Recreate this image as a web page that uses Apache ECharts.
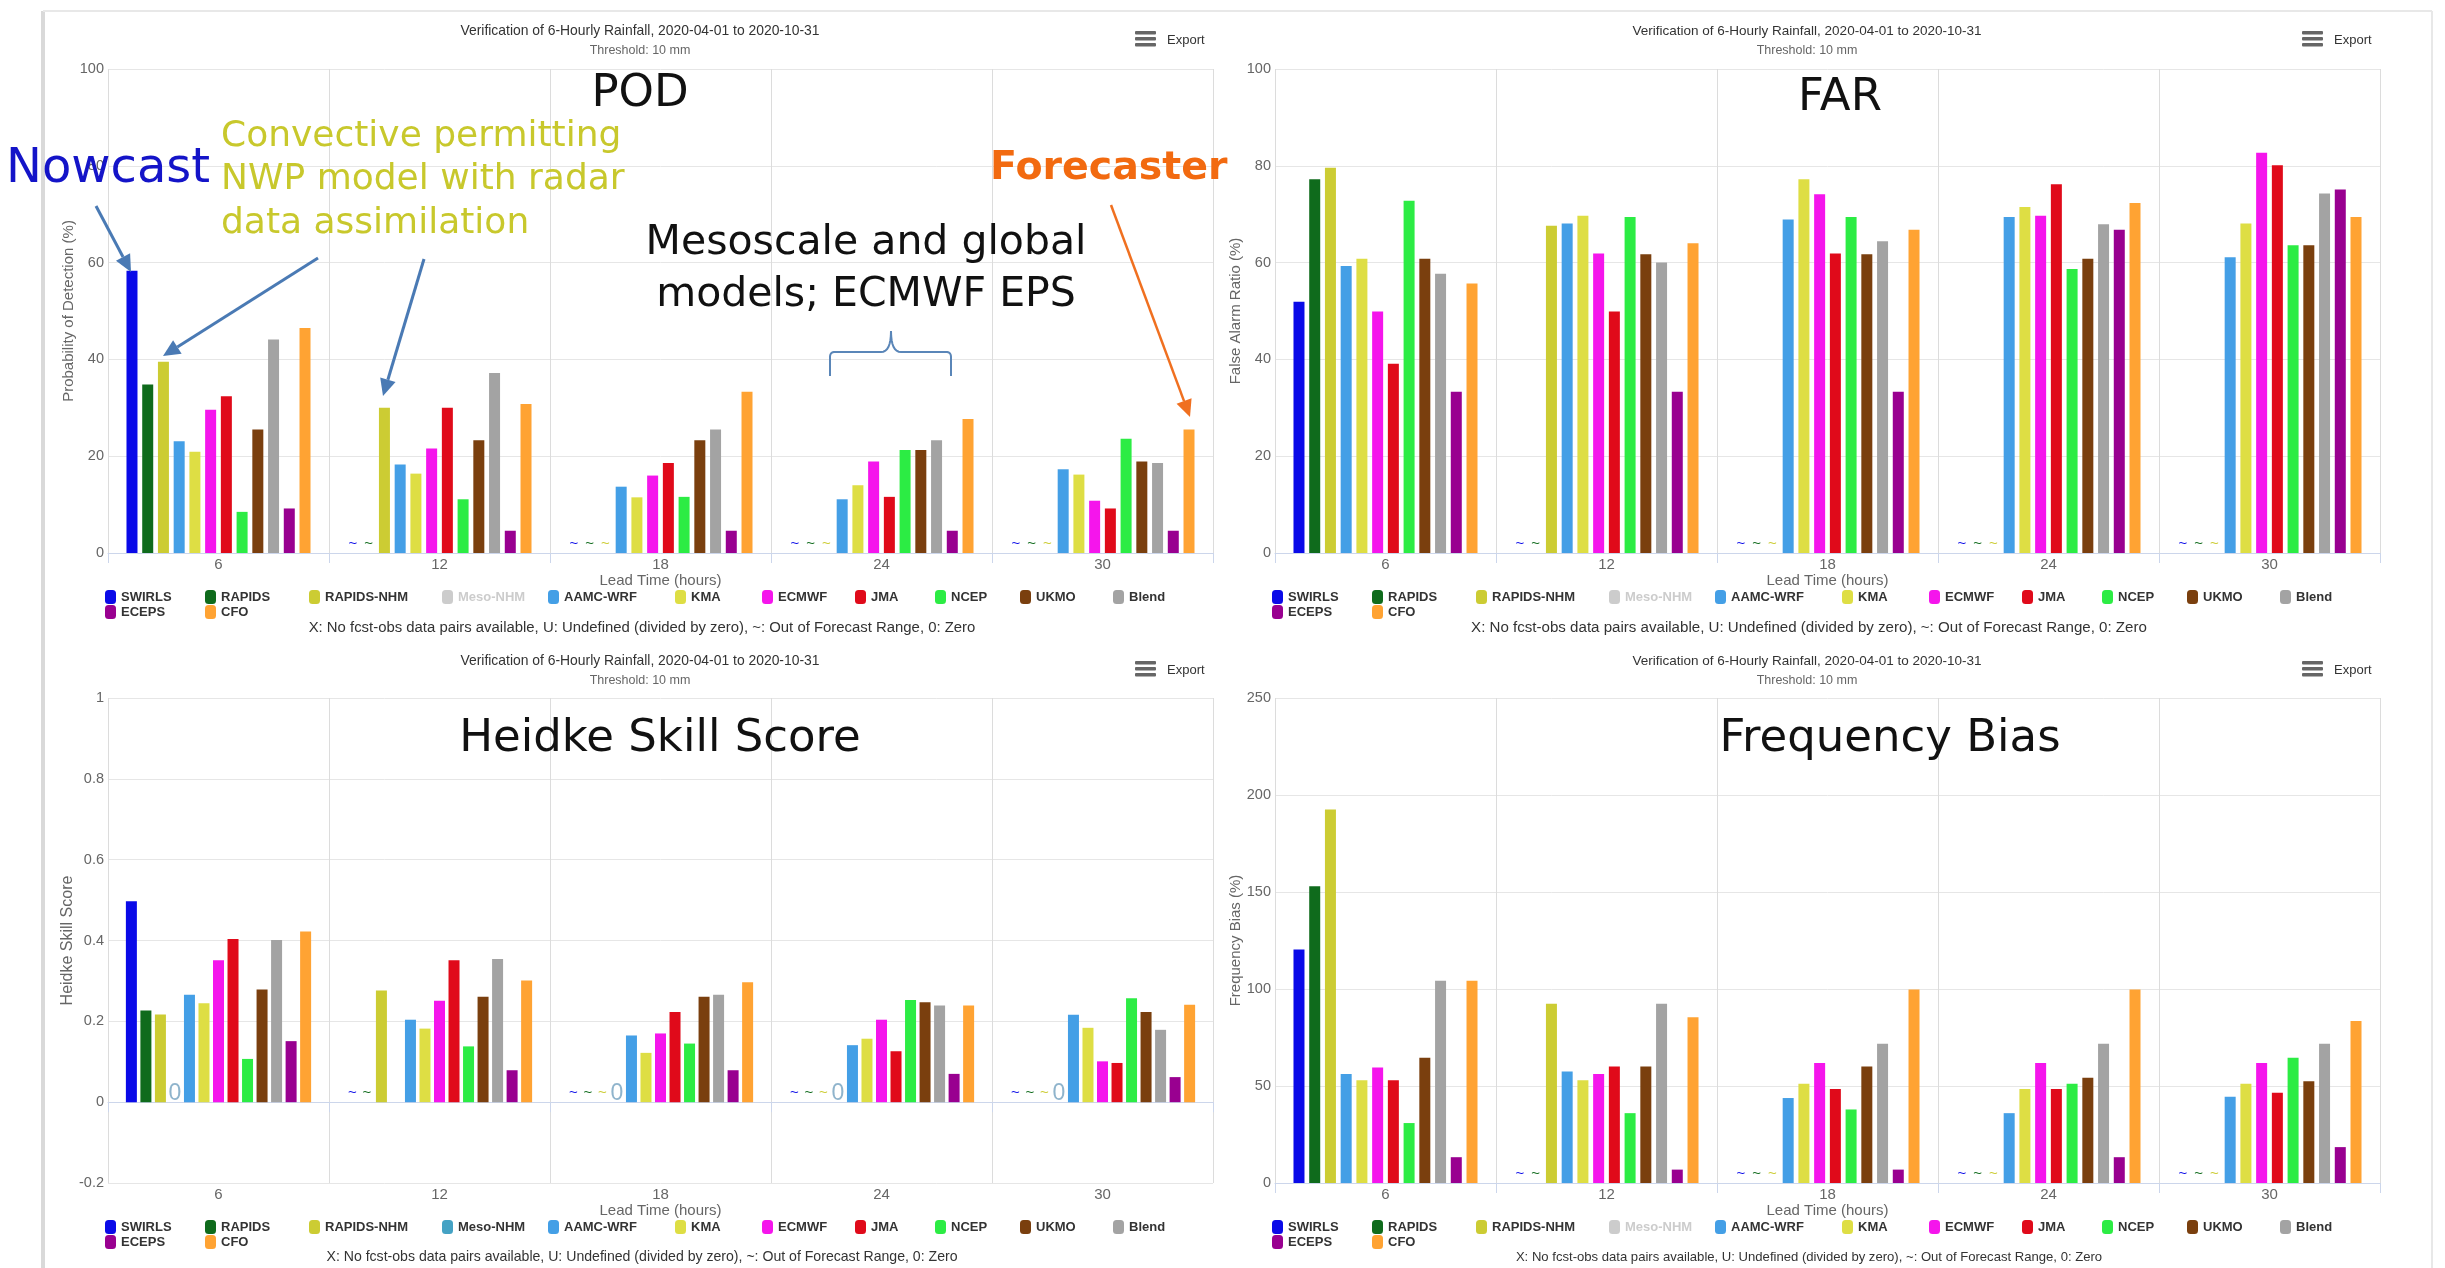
<!DOCTYPE html>
<html>
<head>
<meta charset="utf-8">
<title>Verification of 6-Hourly Rainfall</title>
<script src="https://cdn.jsdelivr.net/npm/echarts@6/dist/echarts.min.js"></script>
<style>
  html, body { margin: 0; padding: 0; background: #ffffff; }
  #chart { width: 2445px; height: 1268px; }
</style>
</head>
<body>
<div id="chart"></div>
<script>
// ---- categories and models ----
const leadTimes = ['6', '12', '18', '24', '30'];
const models = ['SWIRLS', 'RAPIDS', 'RAPIDS-NHM', 'Meso-NHM', 'AAMC-WRF', 'KMA', 'ECMWF',
                'JMA', 'NCEP', 'UKMO', 'Blend', 'ECEPS', 'CFO'];
const modelColors = ['#0a0ae8', '#0f6b1c', '#cccc33', '#44a2c4', '#449fe6', '#dede44', '#f515ec',
                     '#e00a1a', '#2cec44', '#7a3f0e', '#a3a3a3', '#990090', '#ffa333'];

// '~' = out of forecast range, 0 = zero, null = no value.  Rows follow `models`.
const podValues = [
  [58.3, '~', '~', '~', '~'],
  [34.8, '~', '~', '~', '~'],
  [39.5, 30.0, '~', '~', '~'],
  null,
  [23.1, 18.3, 13.7, 11.1, 17.3],
  [20.9, 16.4, 11.5, 14.0, 16.2],
  [29.6, 21.6, 16.0, 18.9, 10.8],
  [32.4, 30.0, 18.6, 11.6, 9.2],
  [8.5, 11.1, 11.6, 21.3, 23.6],
  [25.5, 23.3, 23.3, 21.3, 18.9],
  [44.1, 37.2, 25.5, 23.3, 18.6],
  [9.2, 4.6, 4.6, 4.6, 4.6],
  [46.5, 30.8, 33.3, 27.7, 25.5]
];
const podHidden = ['Meso-NHM'];

const farValues = [
  [51.9, '~', '~', '~', '~'],
  [77.2, '~', '~', '~', '~'],
  [79.6, 67.6, '~', '~', '~'],
  null,
  [59.3, 68.1, 68.9, 69.4, 61.1],
  [60.8, 69.7, 77.2, 71.5, 68.1],
  [49.9, 61.9, 74.1, 69.7, 82.7],
  [39.1, 49.9, 61.9, 76.2, 80.1],
  [72.8, 69.4, 69.4, 58.7, 63.6],
  [60.8, 61.7, 61.7, 60.8, 63.6],
  [57.7, 60.0, 64.4, 67.9, 74.3],
  [33.3, 33.3, 33.3, 66.8, 75.1],
  [55.7, 64.0, 66.8, 72.3, 69.4]
];
const farHidden = ['Meso-NHM'];

const hssValues = [
  [0.497, '~', '~', '~', '~'],
  [0.227, '~', '~', '~', '~'],
  [0.217, 0.276, '~', '~', '~'],
  [0, null, 0, 0, 0],
  [0.266, 0.204, 0.165, 0.141, 0.216],
  [0.245, 0.182, 0.122, 0.157, 0.184],
  [0.351, 0.251, 0.170, 0.204, 0.101],
  [0.404, 0.351, 0.223, 0.126, 0.097],
  [0.107, 0.138, 0.145, 0.253, 0.257],
  [0.279, 0.261, 0.261, 0.247, 0.223],
  [0.401, 0.354, 0.266, 0.239, 0.179],
  [0.151, 0.079, 0.079, 0.070, 0.062],
  [0.422, 0.301, 0.297, 0.239, 0.241]
];
const hssHidden = [];

const fbValues = [
  [120.4, '~', '~', '~', '~'],
  [153.0, '~', '~', '~', '~'],
  [192.5, 92.4, '~', '~', '~'],
  null,
  [56.2, 57.5, 43.8, 36.0, 44.4],
  [53.0, 53.0, 51.1, 48.4, 51.1],
  [59.5, 56.2, 61.9, 61.9, 61.9],
  [53.0, 60.0, 48.4, 48.4, 46.5],
  [30.9, 36.0, 37.9, 51.1, 64.6],
  [64.6, 60.0, 60.0, 54.3, 52.4],
  [104.2, 92.4, 71.8, 71.8, 71.8],
  [13.3, 6.9, 6.9, 13.3, 18.5],
  [104.2, 85.4, 99.8, 99.8, 83.5]
];
const fbHidden = ['Meso-NHM'];

// ---- texts ----
const chartTitle = 'Verification of 6-Hourly Rainfall, 2020-04-01 to 2020-10-31';
const chartSubtitle = 'Threshold: 10 mm';
const xAxisTitle = 'Lead Time (hours)';
const footnote = 'X: No fcst-obs data pairs available, U: Undefined (divided by zero), ~: Out of Forecast Range, 0: Zero';

// ---- layout of the four panels ----
const panels = [
  { values: podValues, hidden: podHidden, yName: 'Probability of Detection (%)', min: 0, max: 100, interval: 20,
    grid: { left: 108, top: 69, width: 1105, height: 484 }, headCx: 640, headY: 31, exportX: 1135, legendY: 590, footY: 628,
    titleSize: 13.9, footSize: 14.9, yNameSize: 15,
    label: 'POD', labelX: 640, labelY: 94 },
  { values: farValues, hidden: farHidden, yName: 'False Alarm Ratio (%)', min: 0, max: 100, interval: 20,
    grid: { left: 1275, top: 69, width: 1105, height: 484 }, headCx: 1807, headY: 31, exportX: 2302, legendY: 590, footY: 628,
    titleSize: 13.5, footSize: 15.1, yNameSize: 15,
    label: 'FAR', labelX: 1840, labelY: 98 },
  { values: hssValues, hidden: hssHidden, yName: 'Heidke Skill Score', min: -0.2, max: 1, interval: 0.2,
    grid: { left: 108, top: 698, width: 1105, height: 485 }, headCx: 640, headY: 661, exportX: 1135, legendY: 1220, footY: 1257,
    titleSize: 13.9, footSize: 14.1, yNameSize: 16,
    label: 'Heidke Skill Score', labelX: 660, labelY: 739 },
  { values: fbValues, hidden: fbHidden, yName: 'Frequency Bias (%)', min: 0, max: 250, interval: 50,
    grid: { left: 1275, top: 698, width: 1105, height: 485 }, headCx: 1807, headY: 661, exportX: 2302, legendY: 1220, footY: 1257,
    titleSize: 13.5, footSize: 13.1, yNameSize: 15,
    label: 'Frequency Bias', labelX: 1890, labelY: 739 }
];

const uiFont = "'Liberation Sans', Arial, sans-serif";
const noteFont = "'DejaVu Sans', 'Noto Sans', sans-serif";
const axisColor = '#ccd6eb';
const gridColor = '#e6e6e6';

// legend column offsets (symbol left edges) relative to the legend start
const legendCols = [0, 100, 204, 337, 443, 570, 657, 750, 830, 915, 1008];
const legendIconW = 11, legendGap = 20;
const legendTextW = legendCols.map((c, i) => (i < legendCols.length - 1 ? legendCols[i + 1] - c : 56) - legendIconW - 5 - legendGap);

function barItem(v, color) {
  if (v === '~') {
    return { value: 0, label: { show: true, formatter: '~', position: 'top', distance: 2, fontSize: 15, color: color } };
  }
  if (v === 0) {
    return { value: 0, label: { show: true, formatter: '0', position: 'top', distance: -3, fontSize: 23, color: '#8fb4cc' } };
  }
  if (v === null || v === undefined) return '-';
  return v;
}

const grids = [], xAxes = [], yAxes = [], series = [], legends = [], graphics = [];

panels.forEach((p, pi) => {
  grids.push(Object.assign({ containLabel: false }, p.grid));
  xAxes.push({
    type: 'category', gridIndex: pi, data: leadTimes, boundaryGap: true,
    axisLine: { show: true, lineStyle: { color: axisColor, width: 1 } },
    axisTick: { show: true, length: 10, interval: 0, lineStyle: { color: axisColor } },
    splitLine: { show: true, interval: 0, lineStyle: { color: '#dcdcdc', width: 1 } },
    axisLabel: { color: '#666', fontSize: 15, margin: 4, fontFamily: uiFont },
    name: xAxisTitle, nameLocation: 'middle', nameGap: 15,
    nameTextStyle: { color: '#666', fontSize: 15, fontFamily: uiFont }
  });
  yAxes.push({
    type: 'value', gridIndex: pi, min: p.min, max: p.max, interval: p.interval,
    axisLine: { show: false }, axisTick: { show: false },
    splitLine: { show: true, lineStyle: { color: gridColor, width: 1 } },
    axisLabel: { color: '#666', fontSize: 14.5, margin: 4, fontFamily: uiFont,
                 formatter: v => String(Math.round(v * 10) / 10) },
    name: p.yName, nameLocation: 'middle', nameRotate: 90, nameGap: 30,
    nameTextStyle: { color: '#666', fontSize: p.yNameSize, fontFamily: uiFont }
  });

  const visible = models.filter(m => p.hidden.indexOf(m) < 0);
  const gap = visible.length > 12 ? '32%' : '43%';
  models.forEach((m, mi) => {
    if (p.hidden.indexOf(m) >= 0) return;
    const row = p.values[mi] || [];
    series.push({
      type: 'bar', name: m, xAxisIndex: pi, yAxisIndex: pi,
      barWidth: 11, barGap: gap,
      itemStyle: { color: modelColors[mi] },
      label: { show: false, fontFamily: uiFont },
      data: leadTimes.map((t, ti) => barItem(row[ti], modelColors[mi]))
    });
  });

  // legend: first row with eleven models, second row with the rest
  const legendItem = (m, w) => {
    const item = { name: m, textStyle: { width: w } };
    if (p.hidden.indexOf(m) >= 0) {
      item.itemStyle = { color: '#cccccc' };
      item.textStyle.color = '#cccccc';
    }
    return item;
  };
  const legendBase = {
    orient: 'horizontal', left: p.grid.left - 3, padding: 0, itemGap: legendGap,
    itemWidth: legendIconW, itemHeight: 14, selectedMode: false,
    icon: 'path://M3.5,0H7.5A3.5,3.5 0 0 1 11,3.5V10.5A3.5,3.5 0 0 1 7.5,14H3.5A3.5,3.5 0 0 1 0,10.5V3.5A3.5,3.5 0 0 1 3.5,0Z',
    textStyle: { color: '#333', fontSize: 13, fontWeight: 'bold', fontFamily: uiFont, lineHeight: 14 }
  };
  legends.push(Object.assign({}, legendBase, {
    top: p.legendY, width: 1200,
    data: models.slice(0, 11).map((m, i) => legendItem(m, legendTextW[i]))
  }));
  legends.push(Object.assign({}, legendBase, {
    top: p.legendY + 15, width: 400,
    data: models.slice(11).map((m, i) => legendItem(m, legendTextW[i]))
  }));

  // header, export button and footnote
  graphics.push({ type: 'text', x: p.headCx, y: p.headY, silent: true,
    style: { text: chartTitle, fill: '#333', fontSize: p.titleSize, fontFamily: uiFont, textAlign: 'center', textVerticalAlign: 'middle' } });
  graphics.push({ type: 'text', x: p.headCx, y: p.headY + 20, silent: true,
    style: { text: chartSubtitle, fill: '#666', fontSize: 12.5, fontFamily: uiFont, textAlign: 'center', textVerticalAlign: 'middle' } });
  [0, 6, 12].forEach(dy => graphics.push({ type: 'rect', silent: true,
    shape: { x: p.exportX, y: p.headY + dy, width: 21, height: 3.5, r: 1 }, style: { fill: '#666' } }));
  graphics.push({ type: 'text', x: p.exportX + 32, y: p.headY + 9, silent: true,
    style: { text: 'Export', fill: '#333', fontSize: 13, fontFamily: uiFont, textAlign: 'left', textVerticalAlign: 'middle' } });
  graphics.push({ type: 'text', x: p.headCx + 2, y: p.footY, silent: true,
    style: { text: footnote, fill: '#333', fontSize: p.footSize, fontFamily: uiFont, textAlign: 'center', textVerticalAlign: 'middle' } });
  // large panel caption
  graphics.push({ type: 'text', x: p.labelX, y: p.labelY, silent: true, z: 100,
    style: { text: p.label, fill: '#111', fontSize: 45, fontFamily: noteFont, textAlign: 'center', textVerticalAlign: 'middle' } });
});

// ---- page frame ----
graphics.push({ type: 'line', silent: true, shape: { x1: 43, y1: 11, x2: 43, y2: 1268 }, style: { stroke: '#d9d9d9', lineWidth: 4 } });
graphics.push({ type: 'line', silent: true, shape: { x1: 43, y1: 11, x2: 2432, y2: 11 }, style: { stroke: '#e8e8e8', lineWidth: 2 } });
graphics.push({ type: 'line', silent: true, shape: { x1: 2432, y1: 11, x2: 2432, y2: 1268 }, style: { stroke: '#e8e8e8', lineWidth: 2 } });

// ---- annotations on the POD panel ----
function addArrow(x1, y1, x2, y2, color, width) {
  const a = Math.atan2(y2 - y1, x2 - x1), L = 17, W = 8;
  const bx = x2 - L * Math.cos(a), by = y2 - L * Math.sin(a);
  graphics.push({ type: 'line', silent: true, z: 100, shape: { x1: x1, y1: y1, x2: bx, y2: by },
    style: { stroke: color, lineWidth: width } });
  graphics.push({ type: 'polygon', silent: true, z: 100,
    shape: { points: [[x2, y2], [bx + W * Math.sin(a), by - W * Math.cos(a)], [bx - W * Math.sin(a), by + W * Math.cos(a)]] },
    style: { fill: color } });
}
function addNote(text, x, y, size, color, align, weight) {
  graphics.push({ type: 'text', x: x, y: y, silent: true, z: 100,
    style: { text: text, fill: color, fontSize: size, fontWeight: weight || 'normal', fontFamily: noteFont,
             textAlign: align, textVerticalAlign: 'middle' } });
}
// curly brace opening upward, built from quadratic corners
function addBrace(x1, x2, tipX, yBar, yTip, yEnd, color) {
  const pts = [];
  const quad = (p0, c, p1) => { for (let i = 0; i <= 8; i++) { const t = i / 8, u = 1 - t;
    pts.push([u * u * p0[0] + 2 * u * t * c[0] + t * t * p1[0], u * u * p0[1] + 2 * u * t * c[1] + t * t * p1[1]]); } };
  pts.push([x1, yEnd]);
  quad([x1, yBar + 5], [x1, yBar], [x1 + 5, yBar]);
  quad([tipX - 10, yBar], [tipX, yBar], [tipX, yTip]);
  quad([tipX, yTip], [tipX, yBar], [tipX + 10, yBar]);
  quad([x2 - 5, yBar], [x2, yBar], [x2, yBar + 5]);
  pts.push([x2, yEnd]);
  graphics.push({ type: 'polyline', silent: true, z: 100, shape: { points: pts },
    style: { stroke: color, lineWidth: 2, fill: null } });
}

addNote('Nowcast', 6, 170, 48, '#1414c8', 'left');
addNote('Convective permitting', 221, 137, 36, '#c8c82c', 'left');
addNote('NWP model with radar', 221, 180, 36, '#c8c82c', 'left');
addNote('data assimilation', 221, 224, 36, '#c8c82c', 'left');
addNote('Mesoscale and global', 866, 243, 41, '#111111', 'center');
addNote('models; ECMWF EPS', 866, 295, 41, '#111111', 'center');
addNote('Forecaster', 990, 169, 39.5, '#f26a10', 'left', 'bold');

const arrowBlue = '#4a7ab4';
addArrow(96, 206, 131, 272, arrowBlue, 3);
addArrow(318, 258, 163, 356, arrowBlue, 3);
addArrow(424, 259, 383, 396, arrowBlue, 3);
addArrow(1111, 205, 1190, 417, '#f07020', 2.5);
addBrace(830, 951, 891, 352, 331, 376, '#5a86b8');

const chart = echarts.init(document.getElementById('chart'), null, { renderer: 'canvas', width: 2445, height: 1268 });
chart.setOption({
  animation: false,
  backgroundColor: '#ffffff',
  textStyle: { fontFamily: uiFont },
  grid: grids,
  xAxis: xAxes,
  yAxis: yAxes,
  legend: legends,
  series: series,
  graphic: { elements: graphics }
});
</script>
</body>
</html>
